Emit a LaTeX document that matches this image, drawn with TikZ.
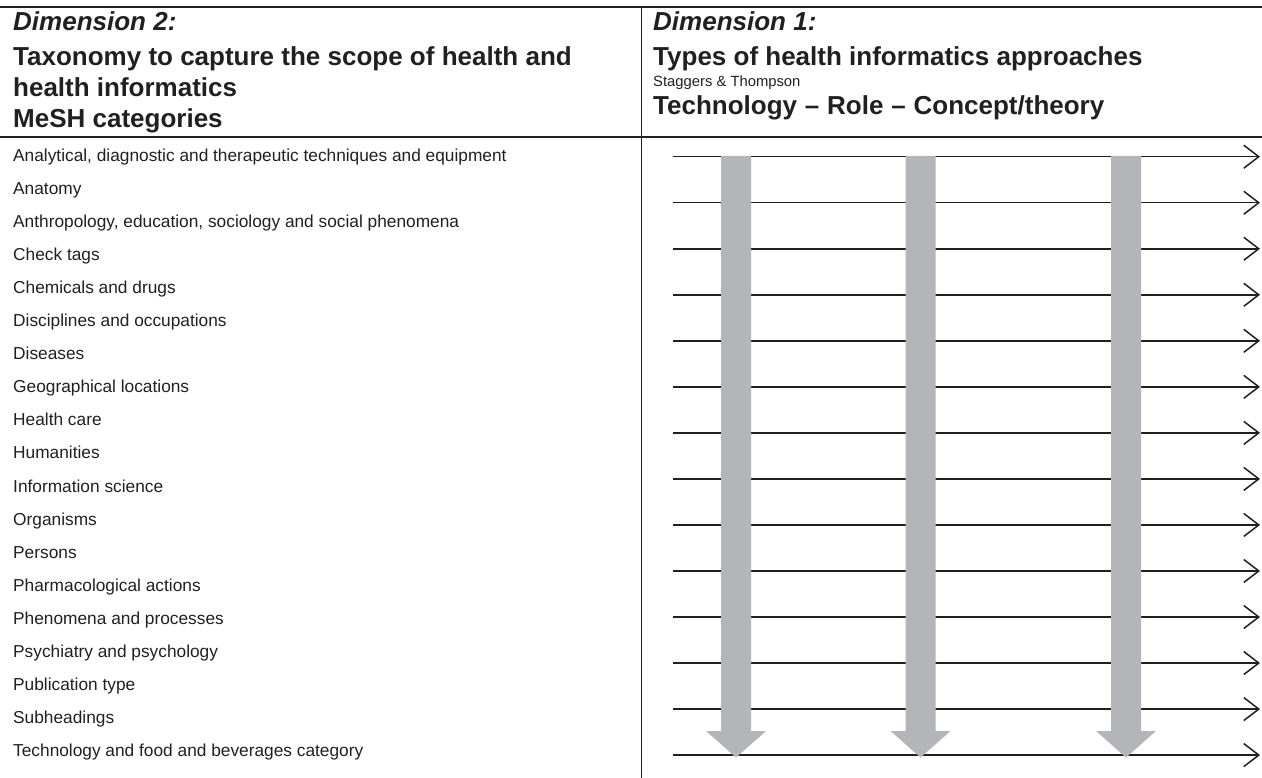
\documentclass[tikz,border=0pt]{standalone}
\usepackage{fontspec}
\setmainfont{Liberation Sans}
\usetikzlibrary{arrows.meta}
\definecolor{ink}{HTML}{231F20}
\definecolor{arrowgray}{HTML}{B4B5B8}
\begin{document}
\begin{tikzpicture}[x=1pt,y=-1pt,
 rule/.style={draw=ink,line width=1.4pt},
 item/.style={anchor=base west,inner sep=0pt,font=\fontsize{17.3}{20}\selectfont,text=ink},
 headit/.style={anchor=base west,inner sep=0pt,font=\fontsize{26}{28}\selectfont\bfseries\itshape,text=ink},
 headbf/.style={anchor=base west,inner sep=0pt,font=\fontsize{26}{28}\selectfont\bfseries,text=ink},
 smalltext/.style={anchor=base west,inner sep=0pt,font=\fontsize{14.8}{16}\selectfont,text=ink},
 flow/.style={draw=ink,line width=1.5pt,-{Straight Barb[length=15pt,width=23pt,line width=1.5pt]}},
 band/.style={fill=arrowgray,draw=none}]
\useasboundingbox (0,0) rectangle (1262,778);
% frame lines
\coordinate (tl) at (0,7); \coordinate (tr) at (1262,7);
\coordinate (sl) at (0,137); \coordinate (sr) at (1262,137);
\coordinate (vt) at (641.5,7); \coordinate (vb) at (641.5,778);
\draw[rule] (tl) -- (tr);
\draw[rule] (sl) -- (sr);
\draw[rule] (vt) -- (vb);
% left header
\node[headit] (d2) at (13,31) {Dimension 2:};
\node[headbf] (d2a) at (13,66) {Taxonomy to capture the scope of health and};
\node[headbf] (d2b) at (13,97) {health informatics};
\node[headbf] (d2c) at (13,127.5) {MeSH categories};
% right header
\node[headit] (d1) at (653,31) {Dimension 1:};
\node[headbf] (d1a) at (653,66) {Types of health informatics approaches};
\node[smalltext] (d1b) at (653,87) {Staggers \& Thompson};
\node[headbf] (d1c) at (653,115) {Technology\hspace{0.3em}\textendash\hspace{0.3em}Role\hspace{0.3em}\textendash\hspace{0.3em}Concept/theory};
% MeSH list
\foreach \t [count=\i from 0] in {
 {Analytical, diagnostic and therapeutic techniques and equipment},
 {Anatomy},
 {Anthropology, education, sociology and social phenomena},
 {Check tags},
 {Chemicals and drugs},
 {Disciplines and occupations},
 {Diseases},
 {Geographical locations},
 {Health care},
 {Humanities},
 {Information science},
 {Organisms},
 {Persons},
 {Pharmacological actions},
 {Phenomena and processes},
 {Psychiatry and psychology},
 {Publication type},
 {Subheadings},
 {Technology and food and beverages category}}
 \node[item] (m\i) at (13,{161.2+33.08*\i}) {\t};
% horizontal arrows
\foreach \i in {0,...,13} {
 \coordinate (hs\i) at (672.7,{156.7+46.03*\i});
 \coordinate (he\i) at (1260,{156.7+46.03*\i});
 \draw[flow] (hs\i) -- (he\i);
}
% gray downward arrows
\foreach \cx in {736,920.5,1126} {
 \fill[band] ({\cx-15},156) -- ({\cx+15},156) -- ({\cx+15},731) -- ({\cx+30},731)
   -- (\cx,757.5) -- ({\cx-30},731) -- ({\cx-15},731) -- cycle;
}
\end{tikzpicture}
\end{document}
